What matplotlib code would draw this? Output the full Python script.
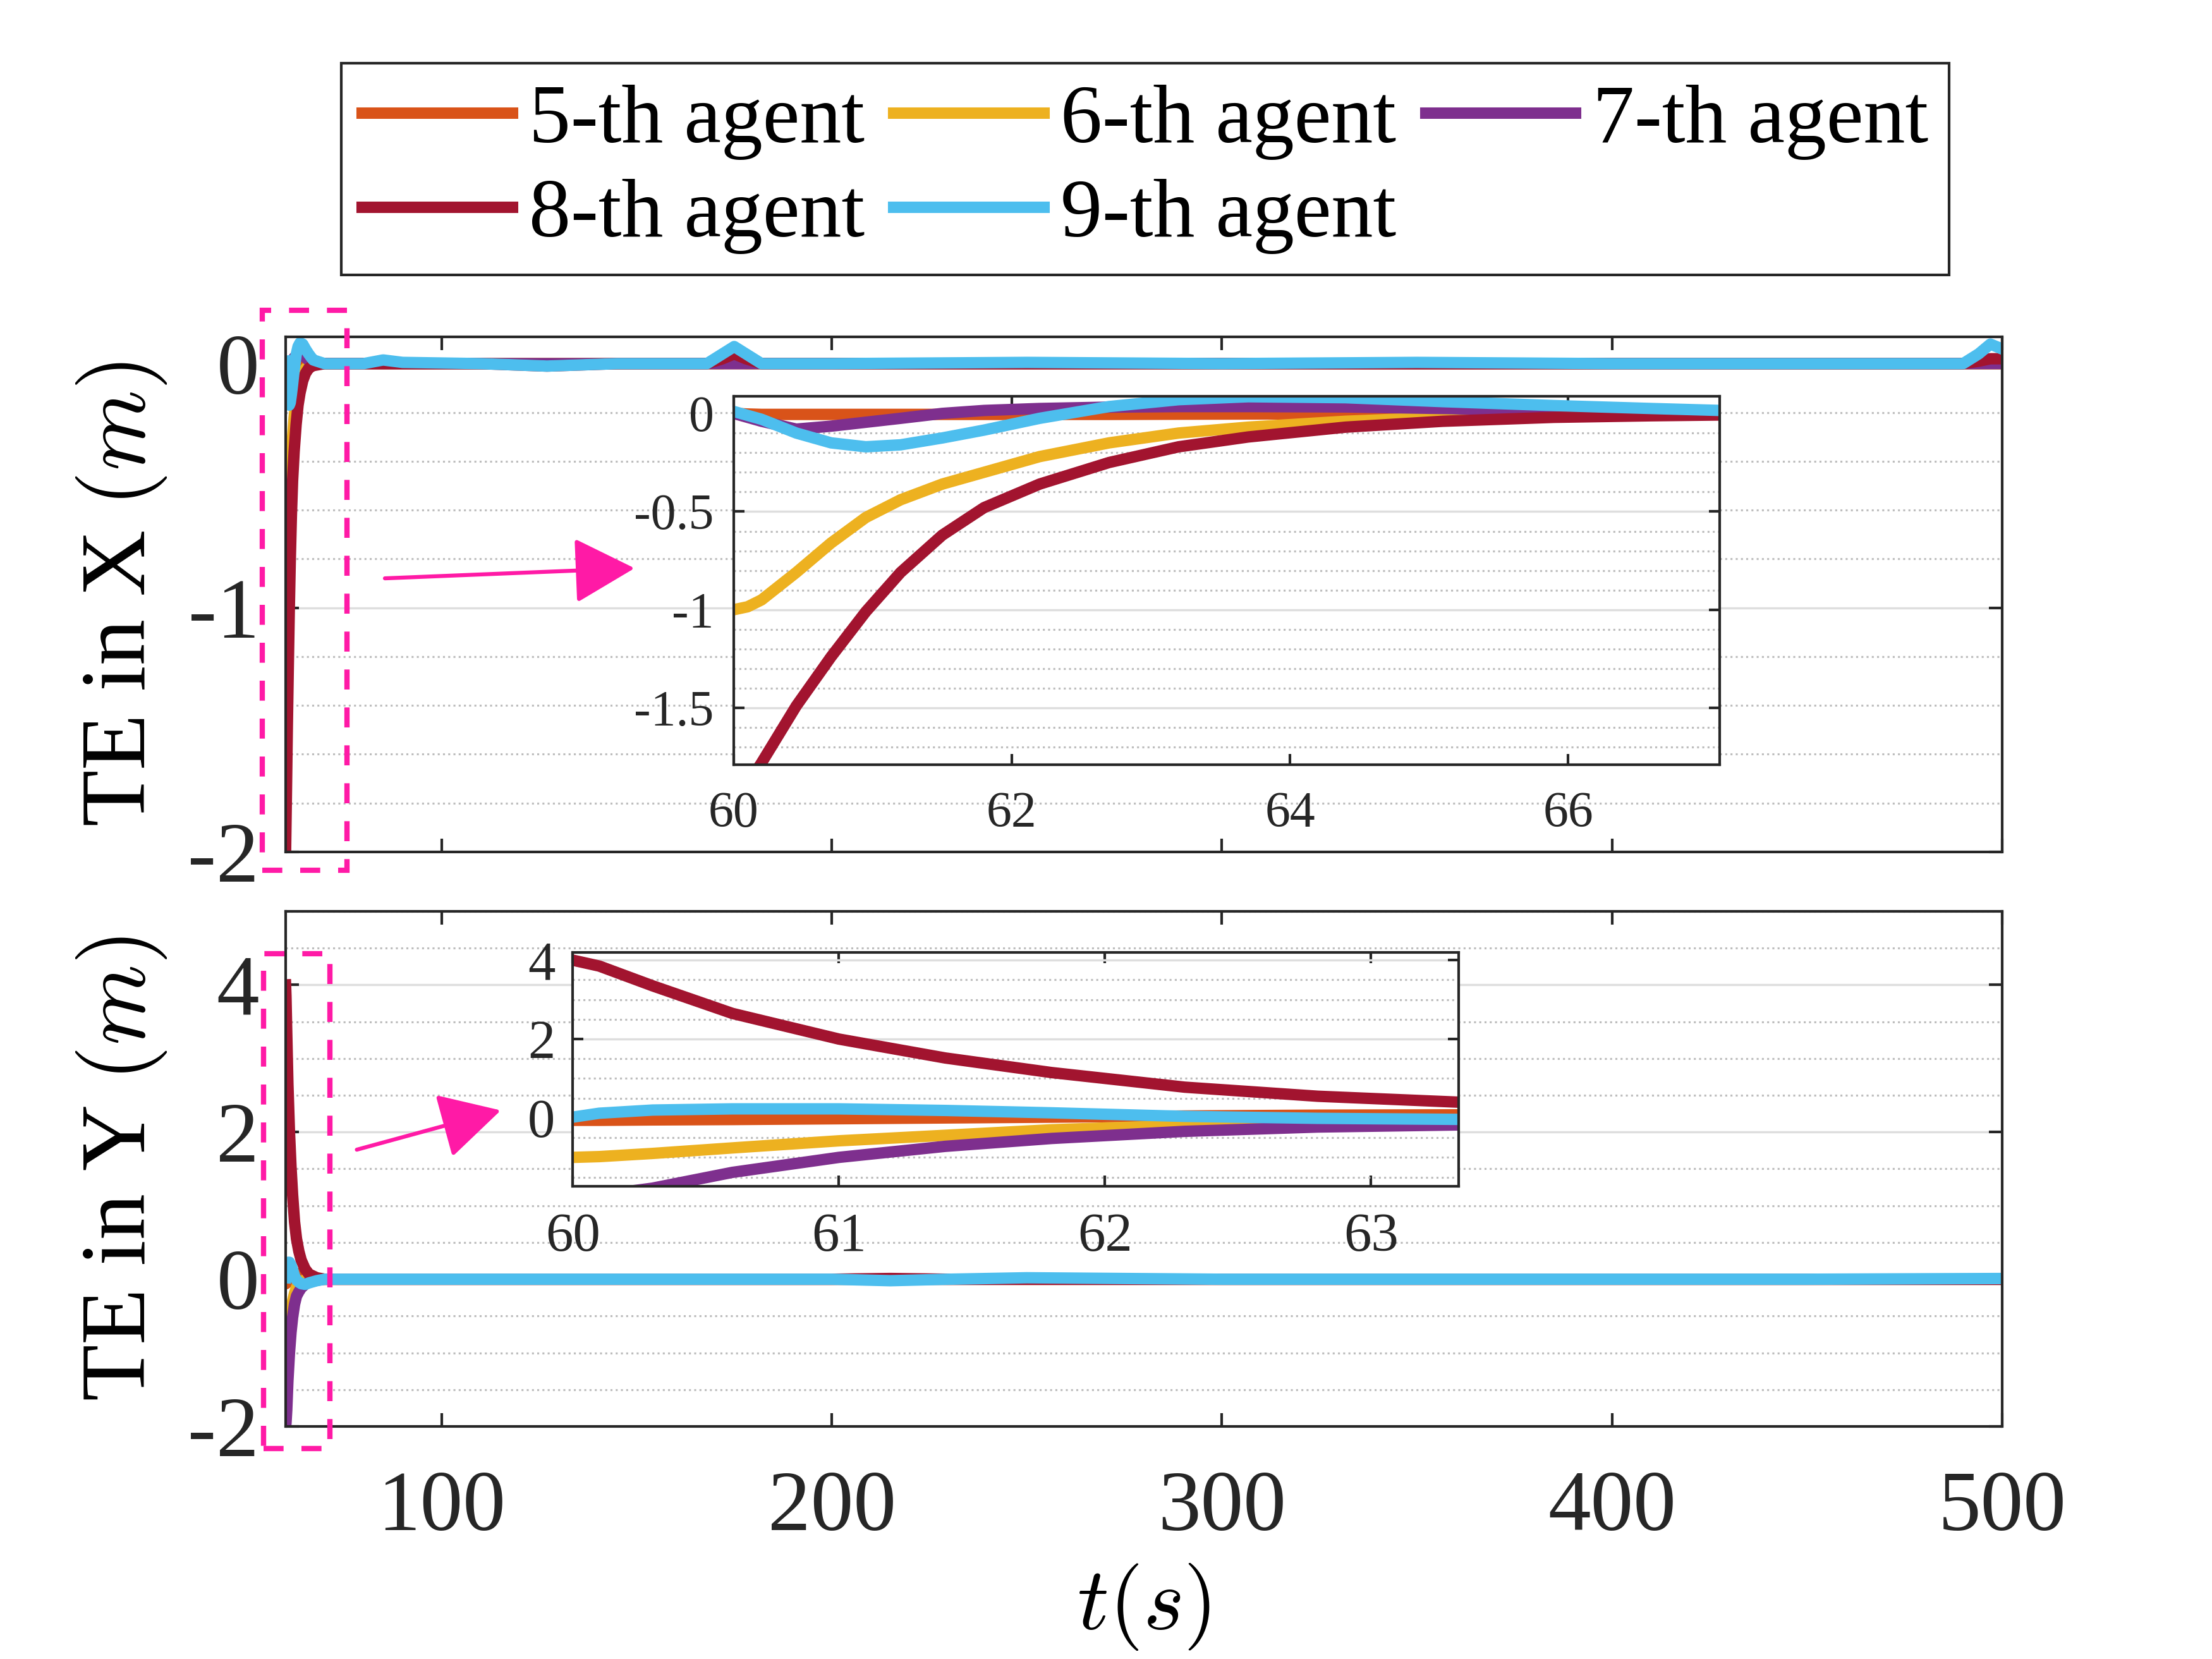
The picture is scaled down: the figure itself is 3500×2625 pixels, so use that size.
import numpy as np
import matplotlib.pyplot as plt
from matplotlib.patches import Rectangle, FancyArrowPatch
from matplotlib.ticker import MultipleLocator

plt.rcParams['font.family'] = ['Liberation Serif', 'DejaVu Serif']
plt.rcParams['mathtext.fontset'] = 'cm'

labels = ['5-th agent', '6-th agent', '7-th agent', '8-th agent', '9-th agent']
colors = ['#D95319', '#EDB120', '#7E2F8E', '#A2142F', '#4DBEEE']

# tracking error in X
tx = [60, 60.1, 60.2, 60.45, 60.7, 60.95, 61.2, 61.5, 61.8, 62.2, 62.7, 63.2, 63.7, 64.4, 65.1,
      65.9, 66.6, 67.1, 70, 80, 85, 90, 110, 127, 145, 168, 172, 175, 178, 182, 200,
      250, 300, 350, 400, 450, 490, 494, 497, 500]
ex5 = [0.0, -0.003, -0.005, -0.005, -0.005, -0.005, -0.005, -0.005, -0.005, -0.005, -0.005, -0.004, -0.003, -0.002, -0.001,
       0.0, 0.0, 0.0, 0.0, 0.0, 0.0, 0.0, 0.0, 0.0, 0.0, 0.0, 0.0, 0.0, 0.0, 0.0, 0.0,
       0.0, 0.0, 0.0, 0.0, 0.0, 0.0, 0.0, 0.0, 0.0]
ex6 = [-1.0, -0.985, -0.95, -0.81, -0.66, -0.53, -0.44, -0.36, -0.3, -0.22, -0.15, -0.1, -0.07, -0.04, -0.02,
       -0.01, -0.006, -0.004, 0.0, 0.0, 0.0, 0.0, 0.0, 0.0, 0.0, 0.0, 0.0, 0.01, 0.0, 0.0, 0.0,
       0.0, 0.0, 0.0, 0.0, 0.0, 0.0, 0.0, 0.0, 0.0]
ex7 = [0.0, -0.02, -0.04, -0.08, -0.065, -0.045, -0.025, 0.0, 0.015, 0.025, 0.032, 0.035, 0.035, 0.033, 0.025,
       0.013, 0.006, 0.003, 0.0, 0.0, 0.0, 0.0, 0.0, 0.0, 0.0, 0.0, 0.0, 0.0, 0.0, 0.0, 0.0,
       0.0, 0.0, 0.0, 0.0, 0.0, 0.0, 0.0, 0.0, 0.0]
ex8 = [-2.0, -1.89, -1.78, -1.49, -1.24, -1.01, -0.81, -0.62, -0.48, -0.36, -0.25, -0.17, -0.12, -0.07, -0.04,
       -0.02, -0.012, -0.008, 0.0, 0.0, 0.0, 0.0, 0.0, -0.01, 0.0, 0.0, 0.02, 0.04, 0.02, 0.0, 0.0,
       0.0, 0.0, 0.0, 0.0, 0.0, 0.0, 0.01, 0.02, 0.02]
ex9 = [0.01, -0.01, -0.03, -0.1, -0.15, -0.17, -0.16, -0.125, -0.085, -0.025, 0.035, 0.07, 0.085, 0.08, 0.06,
       0.04, 0.025, 0.015, 0.0, 0.0, 0.015, 0.005, 0.0, -0.01, 0.0, 0.0, 0.04, 0.07, 0.04, 0.0, 0.0,
       0.005, 0.0, 0.005, 0.0, 0.0, 0.0, 0.04, 0.08, 0.06]

# tracking error in Y
ty = [60, 60.1, 60.3, 60.6, 61.0, 61.4, 61.8, 62.3, 62.8, 63.4, 64, 65, 66, 68,
      70, 80, 100, 150, 200, 215, 230, 250, 300, 350, 400, 450, 500]
ey5 = [-0.06, -0.06, -0.05, -0.04, -0.02, 0.0, 0.02, 0.05, 0.07, 0.08, 0.07, 0.05, 0.03, 0.01,
       0.0, 0.0, 0.0, 0.0, 0.0, 0.0, 0.0, 0.0, 0.0, 0.0, 0.0, 0.0, 0.0]
ey6 = [-1.0, -0.98, -0.9, -0.76, -0.58, -0.44, -0.3, -0.19, -0.11, -0.05, -0.03, -0.01, 0.0, 0.0,
       0.0, 0.0, 0.0, 0.0, 0.0, 0.0, 0.0, 0.0, 0.0, 0.0, 0.0, 0.0, 0.0]
ey7 = [-2.0, -1.96, -1.78, -1.38, -1.0, -0.72, -0.52, -0.34, -0.23, -0.17, -0.12, -0.07, -0.04, -0.015,
       0.0, 0.0, 0.0, 0.0, 0.0, 0.0, 0.0, 0.0, 0.0, 0.0, 0.0, 0.0, 0.0]
ey8 = [4.0, 3.85, 3.35, 2.65, 2.0, 1.52, 1.15, 0.78, 0.55, 0.38, 0.26, 0.14, 0.07, 0.02,
       0.0, 0.0, 0.0, 0.0, 0.0, 0.01, 0.0, 0.0, 0.0, 0.0, 0.0, 0.0, 0.0]
ey9 = [0.02, 0.12, 0.2, 0.23, 0.23, 0.19, 0.13, 0.04, -0.01, -0.04, -0.06, -0.07, -0.05, -0.02,
       0.0, 0.0, 0.0, 0.0, 0.0, -0.02, 0.0, 0.02, 0.0, 0.0, 0.0, 0.0, 0.01]

EX = [ex5, ex6, ex7, ex8, ex9]
EY = [ey5, ey6, ey7, ey8, ey9]

pink = '#ff1aa6'
lw = 5.2

fig = plt.figure(figsize=(14, 10.5), dpi=250)
ax1 = fig.add_axes([0.1291, 0.4865, 0.776, 0.3105])
ax2 = fig.add_axes([0.1291, 0.1402, 0.776, 0.3105])
in1 = fig.add_axes([0.3317, 0.539, 0.4457, 0.2221])
in2 = fig.add_axes([0.2589, 0.285, 0.4006, 0.141])


def style(ax, minor, size, tlen, xpad, ypad):
    ax.tick_params(direction='in', top=True, right=True, length=tlen, width=1.2,
                   labelsize=size, colors='#262626')
    ax.tick_params(axis='x', pad=xpad)
    ax.tick_params(axis='y', pad=ypad)
    ax.tick_params(which='minor', length=0)
    ax.yaxis.set_minor_locator(MultipleLocator(minor))
    ax.grid(True, axis='y', which='major', color='#dedede', lw=1.0)
    ax.grid(True, axis='y', which='minor', color='#bdbdbd', ls=':', lw=0.9)
    ax.set_axisbelow(True)
    for s in ax.spines.values():
        s.set_linewidth(1.2)
        s.set_color('#262626')


lines = []
for vals, lab, c in zip(EX, labels, colors):
    ln, = ax1.plot(tx, vals, color=c, lw=lw, label=lab)
    lines.append(ln)
    in1.plot(tx, vals, color=c, lw=lw)
for vals, c in zip(EY, colors):
    ax2.plot(ty, vals, color=c, lw=lw)
    in2.plot(ty, vals, color=c, lw=lw)

style(ax1, 0.2, 39, 6, 20, 12)
ax1.set_xlim(60, 500)
ax1.set_ylim(-2, 0.11)
ax1.set_xticks([100, 200, 300, 400, 500])
ax1.set_xticklabels([])
ax1.set_yticks([-2, -1, 0], ['-2', '-1', '0'])
ax1.set_ylabel('TE in X $(m)$', fontsize=42)
ax1.yaxis.set_label_coords(-0.068, 0.5)

style(ax2, 0.5, 39, 6, 20, 12)
ax2.set_xlim(60, 500)
ax2.set_ylim(-2, 5)
ax2.set_xticks([100, 200, 300, 400, 500])
ax2.set_yticks([-2, 0, 2, 4], ['-2', '0', '2', '4'])
ax2.set_ylabel('TE in Y $(m)$', fontsize=42)
ax2.yaxis.set_label_coords(-0.068, 0.5)
ax2.set_xlabel('$t(s)$', fontsize=40)
ax2.xaxis.set_label_coords(0.5, -0.262)

style(in1, 0.1, 23, 5, 12, 9)
in1.set_xlim(60, 67.09)
in1.set_ylim(-1.79, 0.087)
in1.set_xticks([60, 62, 64, 66])
in1.set_yticks([-1.5, -1, -0.5, 0], ['-1.5', '-1', '-0.5', '0'])

style(in2, 0.5, 25, 5, 12, 8)
in2.set_xlim(60, 63.33)
in2.set_ylim(-1.73, 4.2)
in2.set_xticks([60, 61, 62, 63])
in2.set_yticks([0, 2, 4], ['0', '2', '4'])

# zoom markers
fig.add_artist(Rectangle((0.1186, 0.4754), 0.0383, 0.3375, transform=fig.transFigure,
                         fill=False, ec=pink, lw=2.4, ls=(0, (3.8, 3.4))))
fig.add_artist(Rectangle((0.1191, 0.1269), 0.030, 0.2983, transform=fig.transFigure,
                         fill=False, ec=pink, lw=2.4, ls=(0, (3.8, 3.4))))
fig.add_artist(FancyArrowPatch((0.174, 0.6514), (0.2869, 0.6575), transform=fig.transFigure,
                               arrowstyle='-|>,head_length=2.4,head_width=1.3', mutation_scale=10,
                               color=pink, lw=1.8, shrinkA=0, shrinkB=0))
fig.add_artist(FancyArrowPatch((0.1613, 0.307), (0.2264, 0.3307), transform=fig.transFigure,
                               arrowstyle='-|>,head_length=2.4,head_width=1.3', mutation_scale=10,
                               color=pink, lw=1.8, shrinkA=0, shrinkB=0))

order = [0, 3, 1, 4, 2]
leg = fig.legend([lines[i] for i in order], [labels[i] for i in order], ncol=3,
                 loc='upper center', bbox_to_anchor=(0.5177, 0.962), fontsize=38,
                 fancybox=False, edgecolor='#262626', framealpha=1,
                 handlelength=1.8, handletextpad=0.2, columnspacing=0.35,
                 labelspacing=0.22, borderpad=0.25, borderaxespad=0)
leg.get_frame().set_linewidth(1.2)

fig.savefig('out.png', dpi=250)
